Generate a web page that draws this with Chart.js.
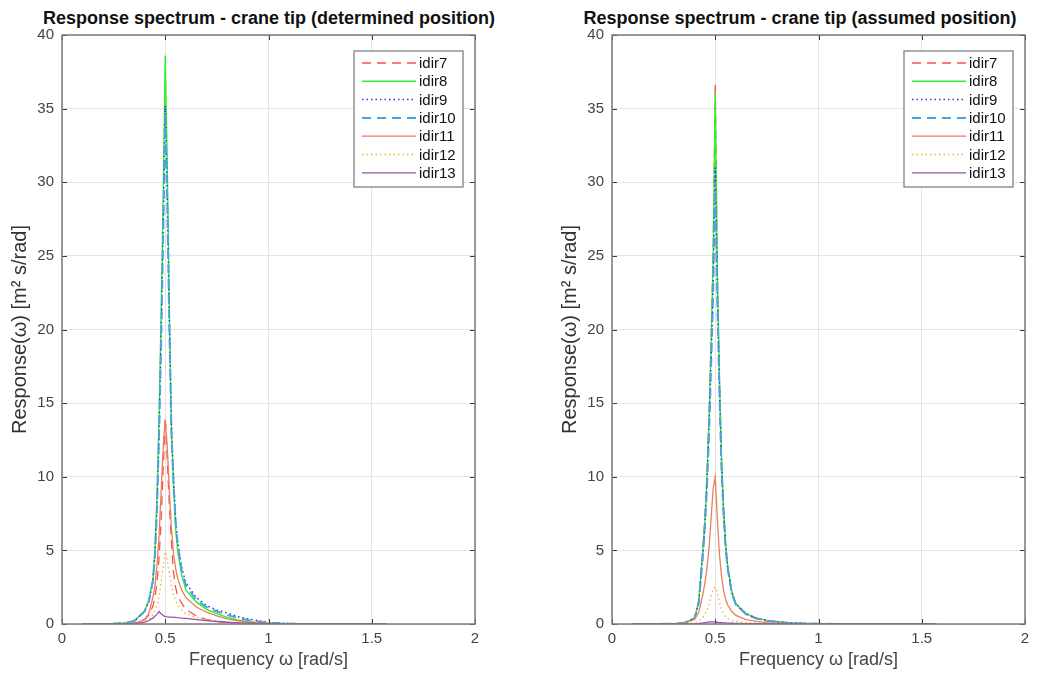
<!DOCTYPE html>
<html>
<head>
<meta charset="utf-8">
<script src="https://cdn.jsdelivr.net/npm/chart.js@4.4.1/dist/chart.umd.min.js"></script>
<style>
  body { margin: 0; width: 1046px; height: 675px; background: #fff; position: relative; overflow: hidden;
         font-family: "Liberation Sans", Arial, sans-serif; }
  .plot { position: absolute; top: 0; }
  .title { position: absolute; top: 8px; font-weight: bold; font-size: 18px; color: #111;
           text-align: center; white-space: nowrap; width: 540px; }
</style>
</head>
<body>
<div class="title" style="left:-1px">Response spectrum - crane tip (determined position)</div>
<div class="title" style="left:530px">Response spectrum - crane tip (assumed position)</div>
<canvas id="chartLeft" class="plot" style="left:0px" width="523" height="675"></canvas>
<canvas id="chartRight" class="plot" style="left:550px" width="496" height="675"></canvas>
<script>
// frequency grid [rad/s]
const freq = [0.1, 0.2, 0.3, 0.35, 0.4, 0.42, 0.44, 0.45, 0.46, 0.47, 0.48, 0.49, 0.5, 0.51, 0.52, 0.53, 0.54,
              0.55, 0.56, 0.58, 0.6, 0.65, 0.7, 0.75, 0.8, 0.85, 0.9, 1.0, 1.1, 1.2, 1.3, 1.4, 1.5, 1.57];

const seriesNames = ['idir7', 'idir8', 'idir9', 'idir10', 'idir11', 'idir12', 'idir13'];

// determined position
const detIdir7  = [0, 0, 0.01, 0.05, 0.3, 0.6, 1.2, 1.8, 2.8, 4.5, 7, 10.5, 14, 11, 8, 5.5, 3.5, 2.5, 1.9, 1.4, 1.0, 0.55, 0.3, 0.18, 0.1, 0.06, 0.04, 0.01, 0, 0, 0, 0, 0, 0];
const detIdir8  = [0, 0, 0.05, 0.2, 0.9, 1.6, 3.0, 5.0, 8.5, 14, 21, 29, 38.6, 31, 21, 13, 9.5, 6.5, 5.0, 3.3, 2.3, 1.5, 1.0, 0.7, 0.45, 0.28, 0.16, 0.05, 0.02, 0.01, 0, 0, 0, 0];
const detIdir9  = [0, 0, 0.05, 0.2, 0.85, 1.5, 2.9, 4.7, 8.0, 13, 19.5, 27, 35.2, 29, 20.5, 13.5, 10, 7.2, 5.6, 3.8, 2.8, 1.8, 1.25, 0.95, 0.75, 0.5, 0.35, 0.1, 0.03, 0.01, 0, 0, 0, 0];
const detIdir10 = [0, 0, 0.05, 0.2, 0.85, 1.5, 2.9, 4.6, 7.8, 12.8, 19, 26.5, 34.8, 28.5, 20, 13, 9.6, 7, 5.4, 3.6, 2.6, 1.65, 1.15, 0.85, 0.62, 0.42, 0.27, 0.08, 0.02, 0, 0, 0, 0, 0];
const detIdir11 = [0, 0, 0.01, 0.05, 0.3, 0.7, 1.8, 2.6, 4.0, 6.0, 9.0, 12, 13.9, 12, 9, 6.5, 4.8, 3.8, 3.1, 2.3, 1.8, 1.15, 0.8, 0.55, 0.35, 0.22, 0.13, 0.04, 0.01, 0, 0, 0, 0, 0];
const detIdir12 = [0, 0, 0, 0.02, 0.15, 0.3, 0.6, 0.9, 1.3, 1.9, 2.8, 3.9, 4.9, 4.3, 3.4, 2.6, 2.0, 1.6, 1.3, 0.95, 0.7, 0.45, 0.3, 0.2, 0.12, 0.07, 0.04, 0.01, 0, 0, 0, 0, 0, 0];
const detIdir13 = [0, 0, 0, 0.02, 0.12, 0.22, 0.4, 0.52, 0.65, 0.85, 0.7, 0.58, 0.5, 0.48, 0.47, 0.46, 0.45, 0.45, 0.43, 0.4, 0.38, 0.3, 0.23, 0.17, 0.12, 0.08, 0.05, 0.02, 0, 0, 0, 0, 0, 0];

// assumed position
const assIdir7  = [0, 0, 0.01, 0.05, 0.4, 1.6, 5.2, 7.2, 10.2, 14.2, 19.5, 25.5, 36.7, 24, 16.5, 11, 7.6, 5.2, 3.8, 2.1, 1.3, 0.65, 0.35, 0.2, 0.12, 0.07, 0.04, 0.01, 0, 0, 0, 0, 0, 0];
const assIdir8  = [0, 0, 0.02, 0.08, 0.4, 1.5, 5.0, 7.0, 10, 14, 19, 25, 36.1, 24, 17, 11.5, 8, 5.5, 4, 2.2, 1.4, 0.7, 0.4, 0.25, 0.15, 0.09, 0.05, 0.02, 0, 0, 0, 0, 0, 0];
const assIdir9  = [0, 0, 0.02, 0.08, 0.4, 1.45, 4.8, 6.8, 9.6, 13.5, 18, 23, 31, 22.5, 16.3, 11, 7.8, 5.4, 3.9, 2.15, 1.35, 0.68, 0.4, 0.24, 0.15, 0.09, 0.05, 0.02, 0, 0, 0, 0, 0, 0];
const assIdir10 = [0, 0, 0.02, 0.08, 0.4, 1.4, 4.6, 6.6, 9.3, 13, 17.5, 22.5, 30, 22, 15.8, 10.6, 7.5, 5.2, 3.8, 2.1, 1.3, 0.66, 0.38, 0.23, 0.14, 0.08, 0.05, 0.02, 0, 0, 0, 0, 0, 0];
const assIdir11 = [0, 0, 0.01, 0.05, 0.3, 0.8, 2.0, 2.8, 3.8, 5.2, 7.2, 9.2, 10, 7.2, 4.8, 3.3, 2.3, 1.7, 1.3, 0.85, 0.58, 0.3, 0.18, 0.1, 0.06, 0.03, 0.02, 0, 0, 0, 0, 0, 0, 0];
const assIdir12 = [0, 0, 0, 0.01, 0.08, 0.2, 0.45, 0.65, 0.95, 1.35, 1.9, 2.35, 2.5, 2.2, 1.5, 1.0, 0.7, 0.5, 0.38, 0.25, 0.18, 0.1, 0.06, 0.03, 0.02, 0.01, 0, 0, 0, 0, 0, 0, 0, 0];
const assIdir13 = [0, 0, 0, 0, 0.02, 0.04, 0.07, 0.09, 0.11, 0.14, 0.15, 0.14, 0.13, 0.12, 0.1, 0.09, 0.08, 0.07, 0.06, 0.05, 0.04, 0.03, 0.02, 0.015, 0.01, 0.01, 0, 0, 0, 0, 0, 0, 0, 0];

const xTicks = [0, 0.5, 1, 1.5, 2];
const yTicks = [0, 5, 10, 15, 20, 25, 30, 35, 40];

const FONT = '"Liberation Sans", Arial, sans-serif';

const LINE_STYLES = [
    { color: '#ff4d4d', dash: [9, 6], width: 1.3 },   // idir7 dashed red
    { color: '#2ef02e', dash: [],     width: 1.4 },   // idir8 green
    { color: '#3030f0', dash: [1.5, 3], width: 1.5 }, // idir9 dotted blue
    { color: '#4da3dd', dash: [9, 6], width: 2 },     // idir10 dashed light blue
    { color: '#e8805a', dash: [],     width: 1.3 },   // idir11 orange
    { color: '#f0b030', dash: [1.5, 3], width: 1.3 }, // idir12 dotted yellow
    { color: '#9b4db0', dash: [],     width: 1.3 }    // idir13 purple
];

function buildDatasets(seriesList) {
    return seriesList.map((vals, i) => ({
        label: seriesNames[i],
        data: freq.map((f, k) => ({ x: f, y: vals[k] })),
        borderColor: LINE_STYLES[i].color,
        backgroundColor: 'transparent',
        borderDash: LINE_STYLES[i].dash,
        borderWidth: LINE_STYLES[i].width,
        pointRadius: 0,
        fill: false,
        tension: 0,
        order: seriesList.length - i // later series on top, like the original
    }));
}

// closed box, inward ticks and the legend inside the axes
const framePlugin = {
    id: 'frame',
    afterDatasetsDraw(chart) {
        const { ctx, chartArea: a, scales } = chart;
        ctx.save();
        ctx.setLineDash([]);
        ctx.strokeStyle = '#3a3a3a';
        ctx.lineWidth = 1;
        ctx.beginPath();
        scales.x.ticks.forEach(t => {
            const px = Math.round(scales.x.getPixelForValue(t.value)) + 0.5;
            ctx.moveTo(px, a.bottom); ctx.lineTo(px, a.bottom - 5);
            ctx.moveTo(px, a.top); ctx.lineTo(px, a.top + 5);
        });
        scales.y.ticks.forEach(t => {
            const py = Math.round(scales.y.getPixelForValue(t.value)) + 0.5;
            ctx.moveTo(a.left, py); ctx.lineTo(a.left + 5, py);
            ctx.moveTo(a.right, py); ctx.lineTo(a.right - 5, py);
        });
        ctx.stroke();
        ctx.strokeStyle = '#7a7a7a';
        ctx.lineWidth = 1.5;
        ctx.strokeRect(a.left, a.top, a.right - a.left, a.bottom - a.top);

        // legend
        const bx = a.right - 121, by = a.top + 16, bw = 109, bh = 136;
        ctx.fillStyle = '#fff';
        ctx.fillRect(bx, by, bw, bh);
        ctx.strokeStyle = '#777';
        ctx.lineWidth = 1.2;
        ctx.strokeRect(bx, by, bw, bh);
        ctx.font = '15px ' + FONT;
        ctx.textBaseline = 'middle';
        chart.data.datasets.forEach((ds, i) => {
            const ry = by + 12 + i * 18.3;
            ctx.strokeStyle = ds.borderColor;
            ctx.lineWidth = ds.borderWidth;
            ctx.setLineDash(ds.borderDash);
            ctx.beginPath();
            ctx.moveTo(bx + 8, ry);
            ctx.lineTo(bx + 62, ry);
            ctx.stroke();
            ctx.setLineDash([]);
            ctx.fillStyle = '#111';
            ctx.fillText(ds.label, bx + 65, ry + 1);
        });
        ctx.restore();
    }
};

function makeChart(canvasId, seriesList, rightPad) {
    const ctx = document.getElementById(canvasId).getContext('2d');
    return new Chart(ctx, {
        type: 'line',
        data: { datasets: buildDatasets(seriesList) },
        options: {
            responsive: false,
            animation: false,
            layout: { padding: { top: 35, right: rightPad, left: 0, bottom: 0 } },
            plugins: { legend: { display: false }, tooltip: { enabled: false } },
            scales: {
                x: {
                    type: 'linear', min: 0, max: 2,
                    afterBuildTicks: s => { s.ticks = xTicks.map(v => ({ value: v })); },
                    afterFit: s => { s.height = 51; },
                    grid: { color: '#e4e4e4', drawTicks: false },
                    border: { display: false },
                    ticks: { color: '#444', padding: 6, callback: v => String(v), font: { size: 15, family: FONT } },
                    title: { display: true, text: 'Frequency ω [rad/s]', color: '#444',
                             padding: { top: 0, bottom: 4 },
                             font: { size: 18, family: FONT } }
                },
                y: {
                    min: 0, max: 40,
                    afterBuildTicks: s => { s.ticks = yTicks.map(v => ({ value: v })); },
                    afterFit: s => { s.width = 62; },
                    grid: { color: '#e4e4e4', drawTicks: false },
                    border: { display: false },
                    ticks: { color: '#444', padding: 8, font: { size: 15, family: FONT } },
                    title: { display: true, text: 'Response(ω) [m² s/rad]', color: '#333',
                             padding: { top: 8, bottom: 0 },
                             font: { size: 20, family: FONT } }
                }
            }
        },
        plugins: [framePlugin]
    });
}

makeChart('chartLeft',
    [detIdir7, detIdir8, detIdir9, detIdir10, detIdir11, detIdir12, detIdir13], 48);
makeChart('chartRight',
    [assIdir7, assIdir8, assIdir9, assIdir10, assIdir11, assIdir12, assIdir13], 21);
</script>
</body>
</html>
